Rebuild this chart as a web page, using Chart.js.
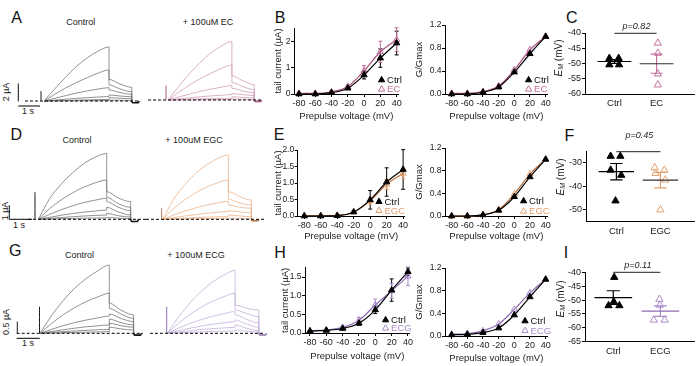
<!DOCTYPE html>
<html><head><meta charset="utf-8">
<script src="https://cdn.jsdelivr.net/npm/chart.js@4.4.1/dist/chart.umd.min.js"></script>
<style>
html,body{margin:0;padding:0;background:#fff}
body{width:700px;height:366px;position:relative;overflow:hidden;font-family:'Liberation Sans',Arial,sans-serif;color:#111}
canvas{position:absolute}
.t{position:absolute;white-space:nowrap;line-height:1;transform:translate(-50%,-50%);font-size:9px;color:#222}
.L{font-size:16px;color:#111}
.r{transform:translate(-50%,-50%) rotate(-90deg)}
</style></head><body>
<div class="t L" style="left:16.7px;top:17.5px">A</div>
<div class="t L" style="left:280px;top:17.5px">B</div>
<div class="t L" style="left:571.7px;top:17.5px">C</div>
<div class="t L" style="left:16.2px;top:135.3px">D</div>
<div class="t L" style="left:279px;top:135.3px">E</div>
<div class="t L" style="left:569.3px;top:135.8px">F</div>
<div class="t L" style="left:15.3px;top:250.8px">G</div>
<div class="t L" style="left:280px;top:252.5px">H</div>
<div class="t L" style="left:566px;top:253px">I</div>
<div class="t" style="left:80.8px;top:21.7px">Control</div>
<div class="t" style="left:208px;top:21.7px">+ 100uM EC</div>
<div class="t" style="left:77px;top:140px">Control</div>
<div class="t" style="left:194px;top:139.7px">+ 100uM EGC</div>
<div class="t" style="left:79.5px;top:255px">Control</div>
<div class="t" style="left:196px;top:255px">+ 100uM ECG</div>
<div class="t r" style="left:6px;top:92px">2 µA</div>
<div class="t" style="left:28px;top:111px">1 s</div>
<div class="t r" style="left:5px;top:211px">1 µA</div>
<div class="t" style="left:19px;top:225px">1 s</div>
<div class="t r" style="left:6px;top:322px">0.5 µA</div>
<div class="t" style="left:28px;top:343px">1 s</div>
<script>
// ---------------- DATA ----------------
const V = [-80, -60, -40, -20, 0, 20, 40];              // prepulse voltage (mV)
const PULSE_T = [0, 0.5, 1, 1.5, 2, 2.5, 3];             // s
const TAIL_T = [3, 3.5, 4.05];                           // s

// Row A/B/C (EC)
const A_CTRL_PULSE = [
  [0,1.35,2.65,3.85,4.8,5.55,6.0],
  [0,0.75,1.45,2.05,2.6,3.1,3.45],
  [0,0.3,0.6,0.88,1.12,1.33,1.48],
  [0,0.1,0.2,0.29,0.37,0.44,0.5],
  [0,0.03,0.06,0.09,0.12,0.15,0.17],
  [0,0.01,0.02,0.03,0.04,0.045,0.05]];
const A_CTRL_TAIL = [[2.4,1.9,1.52],[1.78,1.35,1.03],[1.22,0.95,0.74],[0.67,0.56,0.48],[0.37,0.31,0.26],[0.1,0.08,0.07]];
const A_EC_PULSE = [
  [0,1.5,2.9,4.15,5.2,6.0,6.5],
  [0,0.85,1.65,2.35,2.95,3.5,3.9],
  [0,0.33,0.65,0.95,1.2,1.42,1.6],
  [0,0.12,0.24,0.35,0.45,0.53,0.6],
  [0,0.04,0.08,0.12,0.15,0.18,0.2],
  [0,0.01,0.02,0.03,0.04,0.05,0.06]];
const A_EC_TAIL = [[2.7,2.15,1.7],[1.95,1.5,1.15],[1.3,1.0,0.8],[0.72,0.6,0.5],[0.35,0.28,0.22],[0.1,0.08,0.06]];
const B_TAIL_CTRL = [0, 0, 0.05, 0.22, 0.72, 1.36, 1.93];
const B_TAIL_CTRL_ERR = [0.01, 0.01, 0.03, 0.05, 0.15, 0.35, 0.45];
const B_TAIL_EC = [0.02, 0.02, 0.08, 0.28, 0.88, 1.6, 2.06];
const B_TAIL_EC_ERR = [0.01, 0.01, 0.03, 0.06, 0.2, 0.4, 0.45];
const B_G_CTRL = [0, 0, 0.03, 0.12, 0.38, 0.7, 1.0];
const B_G_EC = [0.01, 0.01, 0.04, 0.14, 0.42, 0.77, 1.0];
const C_CTRL = [-48.3, -48.3, -50.4, -50.4];
const C_EC = [-43.3, -46.6, -53.4, -57.0];

// Row D/E/F (EGC)
const D_CTRL_PULSE = [
  [0,1.45,2.45,3.25,3.9,4.35,4.6],
  [0,0.75,1.35,1.85,2.25,2.55,2.75],
  [0,0.35,0.67,0.94,1.17,1.34,1.47],
  [0,0.14,0.28,0.4,0.5,0.58,0.65],
  [0,0.06,0.12,0.18,0.23,0.27,0.3],
  [0,0.02,0.04,0.06,0.08,0.09,0.1]];
const D_CTRL_TAIL = [[1.93,1.5,1.23],[1.54,1.1,0.84],[1.23,0.85,0.6],[0.84,0.52,0.3],[0.42,0.25,0.16],[0.12,0.08,0.05]];
const D_EGC_PULSE = [
  [0,1.4,2.4,3.2,3.8,4.25,4.5],
  [0,0.75,1.35,1.85,2.25,2.55,2.75],
  [0,0.3,0.57,0.8,0.99,1.14,1.25],
  [0,0.12,0.23,0.33,0.42,0.49,0.55],
  [0,0.04,0.08,0.12,0.15,0.18,0.2],
  [0,0.01,0.02,0.04,0.05,0.06,0.07]];
const D_EGC_TAIL = [[1.93,1.6,1.35],[1.4,1.15,1.0],[1.0,0.85,0.77],[0.6,0.52,0.46],[0.3,0.24,0.18],[0.08,0.07,0.06]];
const E_TAIL_CTRL = [0, 0, 0.01, 0.12, 0.49, 1.03, 1.41];
const E_TAIL_CTRL_ERR = [0.01, 0.01, 0.01, 0.04, 0.28, 0.43, 0.6];
const E_TAIL_EGC = [0.01, 0.01, 0.02, 0.12, 0.46, 0.96, 1.29];
const E_TAIL_EGC_ERR = [0.01, 0.01, 0.01, 0.03, 0.1, 0.15, 0.15];
const E_G_CTRL = [0, 0, 0.02, 0.1, 0.34, 0.69, 1.0];
const E_G_EGC = [0, 0, 0.02, 0.11, 0.39, 0.74, 1.0];
const F_CTRL = [-27.2, -27.2, -33.1, -35.3, -46.2];
const F_EGC = [-32.1, -33.1, -34.5, -37.3, -50.0];

// Row G/H/I (ECG)
const G_CTRL_PULSE = [
  [0,0.76,1.4,1.93,2.35,2.68,2.93],
  [0,0.42,0.79,1.1,1.36,1.56,1.72],
  [0,0.17,0.33,0.46,0.57,0.66,0.74],
  [0,0.08,0.15,0.22,0.28,0.32,0.36],
  [0,0.04,0.07,0.1,0.13,0.15,0.17],
  [0,0.01,0.03,0.04,0.05,0.06,0.07]];
const G_CTRL_TAIL = [[1.29,1.0,0.79],[1.07,0.83,0.64],[0.83,0.64,0.5],[0.61,0.46,0.36],[0.43,0.33,0.26],[0.26,0.19,0.14]];
const G_ECG_PULSE = [
  [0,0.7,1.3,1.8,2.2,2.5,2.7],
  [0,0.43,0.8,1.12,1.38,1.57,1.72],
  [0,0.22,0.42,0.59,0.73,0.84,0.93],
  [0,0.11,0.22,0.31,0.39,0.45,0.5],
  [0,0.06,0.11,0.16,0.2,0.23,0.26],
  [0,0.02,0.04,0.06,0.08,0.09,0.1]];
const G_ECG_TAIL = [[1.21,1.08,1.0],[1.0,0.85,0.71],[0.79,0.6,0.45],[0.57,0.4,0.26],[0.36,0.22,0.11],[0.15,0.09,0.05]];
const H_TAIL_CTRL = [0.05, 0.07, 0.12, 0.26, 0.62, 1.15, 1.64];
const H_TAIL_CTRL_ERR = [0.02, 0.02, 0.03, 0.05, 0.1, 0.3, 0.1];
const H_TAIL_ECG = [0.06, 0.08, 0.15, 0.34, 0.75, 1.13, 1.52];
const H_TAIL_ECG_ERR = [0.02, 0.02, 0.04, 0.08, 0.16, 0.2, 0.25];
const H_G_CTRL = [0.02, 0.03, 0.06, 0.14, 0.37, 0.69, 1.0];
const H_G_ECG = [0.03, 0.04, 0.09, 0.21, 0.47, 0.76, 1.0];
const I_CTRL = [-41.8, -50.6, -52.0, -52.0];
const I_ECG = [-49.7, -51.8, -57.2, -57.2];

const P_TEXT = ['p=0.82', 'p=0.45', 'p=0.11'];
const TICKS_TAIL_B = [0, 1, 2];
const TICKS_TAIL_E = [0, 0.5, 1, 1.5, 2];
const TICKS_TAIL_H = [0, 0.5, 1, 1.5];
const TICKS_G = [0, 0.2, 0.4, 0.6, 0.8, 1.0, 1.2];
const TICKS_C = [-60, -55, -50, -45, -40];
const TICKS_F = [-50, -40, -30];
const TICKS_I = [-65, -60, -55, -50, -45, -40];

// horizontal scatter offsets of the dots (layout only)
const JIT_C_CTRL = [-0.12, 0.1, -0.12, 0.11], JIT_C_EC = [0.03, 0.03, 0.03, 0.03];
const JIT_F_CTRL = [-0.13, 0.09, -0.13, 0.11, -0.02], JIT_F_EGC = [-0.13, 0.09, -0.11, 0.11, 0];
const JIT_I_CTRL = [0.02, 0.01, -0.1, 0.13], JIT_I_ECG = [-0.02, -0.01, -0.14, 0.09];

// ---------------- STYLE ----------------
const FONT = "'Liberation Sans', Arial, Helvetica, sans-serif";
Chart.defaults.font.family = FONT;
Chart.defaults.font.size = 9;
Chart.defaults.color = '#222';
const EC_C = '#c2709c', EC_LINE = '#a8507e', EC_TRACE = '#d29cb8';
const EGC_C = '#e3a06e', EGC_LINE = '#b87040', EGC_TRACE = '#ecb48a';
const ECG_C = '#a98bc9', ECG_LINE = '#8e6cb0', ECG_TRACE = '#c3b0da';
const CTRL_TRACE = '#767676';
const NONE = 'rgba(0,0,0,0)';

function mkCanvas(left, top, w, h) {
  const c = document.createElement('canvas');
  c.width = w; c.height = h;
  c.style.left = left + 'px'; c.style.top = top + 'px';
  c.style.width = w + 'px'; c.style.height = h + 'px';
  document.body.appendChild(c);
  return c.getContext('2d');
}
function tri(ctx, x, y, r, fill, stroke) {
  ctx.beginPath();
  ctx.moveTo(x, y - r);
  ctx.lineTo(x + r * 0.866, y + r * 0.5);
  ctx.lineTo(x - r * 0.866, y + r * 0.5);
  ctx.closePath();
  if (fill !== NONE) { ctx.fillStyle = fill; ctx.fill(); }
  ctx.strokeStyle = stroke; ctx.lineWidth = 1; ctx.stroke();
}
const baseOpts = () => ({responsive: false, animation: false, devicePixelRatio: 1, events: [],
  plugins: {legend: {display: false}, tooltip: {enabled: false}}});

// ---------------- TRACES ----------------
function traceSet(p, t) {
  return PULSE_T.map((x, k) => ({x, y: p[k]}))
    .concat(TAIL_T.map((x, k) => ({x, y: t[k]})))
    .concat([{x: TAIL_T[TAIL_T.length - 1], y: 0}]);
}
function traceChart(c) {
  const ctx = mkCanvas(c.left, c.top, c.w, c.h);
  const X = px => (px - c.x0) / c.pxs, Y = py => (c.y0 - py) / c.pxu;
  const ds = [];
  const line = (data, color, w, dash) => ds.push({data, borderColor: color, borderWidth: w,
    borderDash: dash || [], pointRadius: 0, fill: false, cubicInterpolationMode: 'monotone'});
  line([{x: X(c.dash[0]), y: 0}, {x: X(c.dash[1]), y: 0}], '#000', 1, [3, 2]);
  const te = TAIL_T[TAIL_T.length - 1];
  line([{x: te, y: 0}, {x: te + 0.04, y: c.blip}, {x: te + 0.3, y: c.blip}, {x: te + 0.34, y: 0}], c.dark, 1.6);
  line([{x: X(c.spikeX), y: 0}, {x: X(c.spikeX), y: c.spike}], c.dark, 1);
  c.pulse.forEach((p, i) => line(traceSet(p, c.tail[i]), c.color, 0.8));
  if (c.bar) {
    const b = c.bar;
    line([{x: X(b.vx), y: Y(b.vy)}, {x: X(b.vx), y: Y(b.vy) + b.amp}], '#000', 1);
    line([{x: X(b.hx), y: Y(b.hy)}, {x: X(b.hx) + 1, y: Y(b.hy)}], '#000', 1);
  }
  const o = baseOpts();
  o.layout = {padding: 0};
  o.scales = {
    x: {type: 'linear', display: false, min: X(c.left), max: X(c.left + c.w)},
    y: {type: 'linear', display: false, min: Y(c.top + c.h), max: Y(c.top)}};
  new Chart(ctx, {type: 'line', data: {datasets: ds}, options: o});
}

// ---------------- IV PLOTS ----------------
const errPlugin = {id: 'errBars', beforeDatasetsDraw(chart) {
  const ctx = chart.ctx, xs = chart.scales.x, ys = chart.scales.y;
  chart.data.datasets.forEach(ds => {
    if (!ds.err) return;
    ctx.save(); ctx.strokeStyle = ds.pointBorderColor; ctx.lineWidth = 1;
    ds.data.forEach((p, j) => {
      const e = ds.err[j]; if (!e) return;
      const x = xs.getPixelForValue(p.x), y1 = ys.getPixelForValue(p.y + e), y2 = ys.getPixelForValue(p.y - e);
      ctx.beginPath();
      ctx.moveTo(x, y1); ctx.lineTo(x, y2);
      ctx.moveTo(x - 2, y1); ctx.lineTo(x + 2, y1);
      ctx.moveTo(x - 2, y2); ctx.lineTo(x + 2, y2);
      ctx.stroke();
    });
    ctx.restore();
  });
}};
function legendPlugin(series, lg) {
  return {id: 'lgd', afterDraw(chart) {
    const ctx = chart.ctx, a = chart.chartArea;
    ctx.save();
    series.forEach((s, i) => {
      const x = a.right + lg.dx, y = a.bottom + lg.dy[i];
      tri(ctx, x, y, 3.6, s.fill, s.marker);
      ctx.font = '9.5px ' + FONT; ctx.fillStyle = s.labelColor;
      ctx.textBaseline = 'middle'; ctx.textAlign = 'left';
      ctx.fillText(s.label, x + 5.5, y + 0.5);
    });
    ctx.restore();
  }};
}
function ivChart(c) {
  const fsT = 9.5, lh = fsT * 1.2;
  const cl = Math.floor(c.titleX - lh / 2), ct = Math.floor(c.T - 12);
  const cr = Math.ceil(c.R + 10), cb = Math.ceil(c.titleY + lh / 2 + 1);
  const YW = c.L - cl, XH = cb - c.B;
  const ctx = mkCanvas(cl, ct, cr - cl, cb - ct);
  const datasets = c.series.map(s => ({
    data: V.map((v, i) => ({x: v, y: s.vals[i]})), err: s.err,
    borderColor: s.line, borderWidth: 1.2, cubicInterpolationMode: 'monotone', fill: false,
    pointStyle: 'triangle', pointRadius: 3.6, pointBackgroundColor: s.fill,
    pointBorderColor: s.marker, pointBorderWidth: 1, clip: false}));
  const o = baseOpts();
  o.layout = {padding: {left: 0, top: c.T - ct, right: cr - c.R, bottom: 0}};
  const axisCommon = {
    grid: {drawOnChartArea: false, color: '#000', tickColor: '#000', tickLength: 3, lineWidth: 1},
    border: {display: true, color: '#000', width: 1}};
  o.scales = {
    x: Object.assign({type: 'linear', min: c.xMin, max: c.xMax,
      afterBuildTicks: s => { s.ticks = V.map(v => ({value: v})); },
      afterFit: s => { s.height = XH; },
      ticks: {font: {size: 9}, color: '#222', padding: 1, maxRotation: 0, autoSkip: false},
      title: {display: true, text: 'Prepulse voltage (mV)', font: {size: fsT}, color: '#222',
        padding: {top: 0, bottom: cb - lh / 2 - c.titleY}}}, axisCommon),
    y: Object.assign({type: 'linear', min: c.yMin, max: c.yMax,
      afterBuildTicks: s => { s.ticks = c.yTicks.map(v => ({value: v})); },
      afterFit: s => { s.width = YW; },
      ticks: {font: {size: 8.5}, color: '#222', padding: 0.5, callback: v => Number(v).toFixed(c.yDec)},
      title: {display: true, text: c.yTitle, font: {size: fsT}, color: '#222',
        padding: {top: c.titleX - lh / 2 - cl, bottom: 0}}}, axisCommon)};
  new Chart(ctx, {type: 'line', data: {datasets}, options: o,
    plugins: [errPlugin, legendPlugin(c.series, c.legend)]});
}

// ---------------- SCATTER (E_M) ----------------
function mean(a) { return a.reduce((s, v) => s + v, 0) / a.length; }
function sem(a) { const m = mean(a); return Math.sqrt(a.reduce((s, v) => s + (v - m) * (v - m), 0) / (a.length - 1)) / Math.sqrt(a.length); }
function scatterChart(c) {
  const cl = 546, ct = Math.floor(c.pTextY - 8), cr = 700, cb = Math.ceil(c.B + 18);
  const YW = c.L - cl, XH = cb - c.B;
  const ctx = mkCanvas(cl, ct, cr - cl, cb - ct);
  const datasets = c.groups.map((g, gi) => ({
    data: g.vals.map((v, i) => ({x: gi + 1 + g.jit[i], y: v})), showLine: false,
    pointStyle: 'triangle', pointRadius: 4.2, pointBackgroundColor: g.fill,
    pointBorderColor: g.marker, pointBorderWidth: 1, clip: false}));
  const deco = {id: 'deco', afterDatasetsDraw(chart) {
    const x = chart.ctx, xs = chart.scales.x, ys = chart.scales.y;
    x.save();
    c.groups.forEach((g, gi) => {
      const m = mean(g.vals), e = sem(g.vals), cx = xs.getPixelForValue(gi + 1);
      const hw = xs.getPixelForValue(gi + 1.4) - cx, cw = xs.getPixelForValue(gi + 1.14) - cx;
      const ym = ys.getPixelForValue(m), y1 = ys.getPixelForValue(m + e), y2 = ys.getPixelForValue(m - e);
      x.lineWidth = 1.2;
      x.strokeStyle = g.err; x.beginPath();
      x.moveTo(cx, y1); x.lineTo(cx, y2);
      x.moveTo(cx - cw, y1); x.lineTo(cx + cw, y1);
      x.moveTo(cx - cw, y2); x.lineTo(cx + cw, y2); x.stroke();
      x.strokeStyle = g.meanColor; x.beginPath();
      x.moveTo(cx - hw, ym); x.lineTo(cx + hw, ym); x.stroke();
    });
    // p value bracket
    const px1 = xs.getPixelForValue(1), px2 = xs.getPixelForValue(2), py = c.pLineY - ct;
    x.strokeStyle = '#222'; x.lineWidth = 1;
    x.beginPath(); x.moveTo(px1, py); x.lineTo(px2, py); x.stroke();
    x.font = 'italic 9px ' + FONT; x.fillStyle = '#222'; x.textAlign = 'center'; x.textBaseline = 'middle';
    x.fillText(c.pText, (px1 + px2) / 2 + 1, c.pTextY - ct);
    // E_M (mV) axis title
    x.translate(c.emX - cl, c.emY - ct); x.rotate(-Math.PI / 2);
    x.textAlign = 'left'; x.textBaseline = 'middle';
    const f1 = 'italic 10px ' + FONT, f2 = 'italic 7px ' + FONT, f3 = '10px ' + FONT;
    x.font = f1; const w1 = x.measureText('E').width;
    x.font = f2; const w2 = x.measureText('M').width;
    x.font = f3; const w3 = x.measureText(' (mV)').width;
    let sx = -(w1 + w2 + w3) / 2;
    x.font = f1; x.fillText('E', sx, 0); sx += w1;
    x.font = f2; x.fillText('M', sx, 2.5); sx += w2;
    x.font = f3; x.fillText(' (mV)', sx, 0);
    x.restore();
  }};
  const o = baseOpts();
  o.layout = {padding: {left: 0, top: c.T - ct, right: cr - c.R, bottom: 0}};
  o.scales = {
    x: {type: 'linear', min: c.xMin, max: c.xMax,
      afterBuildTicks: s => { s.ticks = [{value: 1}, {value: 2}]; },
      afterFit: s => { s.height = XH; },
      ticks: {font: {size: 9.5}, color: '#222', padding: 4, callback: v => c.cats[Math.round(v) - 1]},
      grid: {drawOnChartArea: false, drawTicks: false, tickLength: 0, color: '#000'},
      border: {display: true, color: '#000', width: 1}},
    y: {type: 'linear', min: c.yMin, max: c.yMax,
      afterBuildTicks: s => { s.ticks = c.yTicks.map(v => ({value: v})); },
      afterFit: s => { s.width = YW; },
      ticks: {font: {size: 9}, color: '#222', padding: 1},
      grid: {drawOnChartArea: false, color: '#000', tickColor: '#000', tickLength: 3},
      border: {display: true, color: '#000', width: 1}}};
  new Chart(ctx, {type: 'scatter', data: {datasets}, options: o, plugins: [deco]});
}

// ---------------- BUILD ----------------
// Row 1
traceChart({left: 0, top: 30, w: 146, h: 88, x0: 44, pxs: 21.67, y0: 101, pxu: 9,
  pulse: A_CTRL_PULSE, tail: A_CTRL_TAIL, color: CTRL_TRACE, dark: '#111', spike: 1.1, spikeX: 41,
  blip: -0.2, dash: [25, 140], bar: {vx: 18.3, vy: 101.5, amp: 2, hx: 18.3, hy: 106}});
traceChart({left: 146, top: 30, w: 122, h: 88, x0: 168, pxs: 21.3, y0: 100, pxu: 9,
  pulse: A_EC_PULSE, tail: A_EC_TAIL, color: EC_TRACE, dark: EC_LINE, spike: 1.6, spikeX: 166,
  blip: -0.15, dash: [148, 262]});
ivChart({L: 294, R: 398.6, T: 28, B: 94, titleX: 278, titleY: 116,
  xMin: -86.1, xMax: 42.4, yMin: 0, yMax: 2.5, yTicks: TICKS_TAIL_B, yDec: 0, yTitle: 'tail current (\u00b5A)',
  series: [
    {vals: B_TAIL_CTRL, err: B_TAIL_CTRL_ERR, marker: '#000', fill: '#000', line: '#000', label: 'Ctrl', labelColor: '#111'},
    {vals: B_TAIL_EC, err: B_TAIL_EC_ERR, marker: EC_C, fill: NONE, line: EC_LINE, label: 'EC', labelColor: EC_C}],
  legend: {dx: -17, dy: [-14, -4.7]}});
ivChart({L: 445, R: 547.6, T: 25, B: 94, titleX: 419, titleY: 116,
  xMin: -88.5, xMax: 42.5, yMin: 0, yMax: 1.2, yTicks: TICKS_G, yDec: 1, yTitle: 'G/Gmax',
  series: [
    {vals: B_G_CTRL, marker: '#000', fill: '#000', line: '#000', label: 'Ctrl', labelColor: '#111'},
    {vals: B_G_EC, marker: EC_C, fill: NONE, line: EC_LINE, label: 'EC', labelColor: EC_C}],
  legend: {dx: -19, dy: [-14, -4.7]}});
scatterChart({L: 585, R: 697, T: 33, B: 94, xMin: 0.302, xMax: 2.907, yMin: -60, yMax: -40, yTicks: TICKS_C,
  cats: ['Ctrl', 'EC'],
  groups: [
    {vals: C_CTRL, jit: JIT_C_CTRL, marker: '#000', fill: '#000', err: '#000', meanColor: '#000'},
    {vals: C_EC, jit: JIT_C_EC, marker: EC_C, fill: NONE, err: EC_C, meanColor: '#333'}],
  pText: P_TEXT[0], pLineY: 33.3, pTextY: 26.7, emX: 559, emY: 58});

// Row 2
traceChart({left: 0, top: 145, w: 146, h: 92, x0: 38.3, pxs: 22.8, y0: 219.3, pxu: 14.3,
  pulse: D_CTRL_PULSE, tail: D_CTRL_TAIL, color: CTRL_TRACE, dark: '#111', spike: 1.9, spikeX: 35,
  blip: -0.15, dash: [28, 146], bar: {vx: 9.3, vy: 219.3, amp: 1, hx: 9.3, hy: 219.3}});
traceChart({left: 146, top: 145, w: 122, h: 92, x0: 162.7, pxs: 21.9, y0: 219.3, pxu: 14.3,
  pulse: D_EGC_PULSE, tail: D_EGC_TAIL, color: EGC_TRACE, dark: EGC_LINE, spike: 0.8, spikeX: 161.7,
  blip: -0.1, dash: [146, 265]});
ivChart({L: 297.7, R: 404.6, T: 150, B: 216, titleX: 278.5, titleY: 236,
  xMin: -88, xMax: 41.8, yMin: 0, yMax: 2.0, yTicks: TICKS_TAIL_E, yDec: 1, yTitle: 'tail current (\u00b5A)',
  series: [
    {vals: E_TAIL_CTRL, err: E_TAIL_CTRL_ERR, marker: '#000', fill: '#000', line: '#000', label: 'Ctrl', labelColor: '#111'},
    {vals: E_TAIL_EGC, err: E_TAIL_EGC_ERR, marker: EGC_C, fill: NONE, line: EGC_LINE, label: 'EGC', labelColor: EGC_C}],
  legend: {dx: -25.6, dy: [-14.3, -5.3]}});
ivChart({L: 445, R: 547.6, T: 148, B: 216, titleX: 419, titleY: 236,
  xMin: -88.5, xMax: 42.5, yMin: 0, yMax: 1.2, yTicks: TICKS_G, yDec: 1, yTitle: 'G/Gmax',
  series: [
    {vals: E_G_CTRL, marker: '#000', fill: '#000', line: '#000', label: 'Ctrl', labelColor: '#111'},
    {vals: E_G_EGC, marker: EGC_C, fill: NONE, line: EGC_LINE, label: 'EGC', labelColor: EGC_C}],
  legend: {dx: -24, dy: [-15, -4.7]}});
scatterChart({L: 586, R: 697, T: 151, B: 221.5, xMin: 0.31, xMax: 2.78, yMin: -55, yMax: -25, yTicks: TICKS_F,
  cats: ['Ctrl', 'EGC'],
  groups: [
    {vals: F_CTRL, jit: JIT_F_CTRL, marker: '#000', fill: '#000', err: '#000', meanColor: '#000'},
    {vals: F_EGC, jit: JIT_F_EGC, marker: EGC_C, fill: NONE, err: EGC_C, meanColor: '#333'}],
  pText: P_TEXT[1], pLineY: 151.7, pTextY: 135, emX: 561, emY: 177});

// Row 3
traceChart({left: 0, top: 255, w: 146, h: 95, x0: 40, pxs: 23.1, y0: 333.3, pxu: 23.3,
  pulse: G_CTRL_PULSE, tail: G_CTRL_TAIL, color: CTRL_TRACE, dark: '#111', spike: 1.14, spikeX: 39.5,
  blip: -0.08, dash: [16.7, 143], bar: {vx: 17.3, vy: 333.3, amp: 0.5, hx: 16.7, hy: 338.3}});
traceChart({left: 146, top: 255, w: 122, h: 95, x0: 167.3, pxs: 22.6, y0: 333.3, pxu: 23.3,
  pulse: G_ECG_PULSE, tail: G_ECG_TAIL, color: ECG_TRACE, dark: ECG_LINE, spike: 1.14, spikeX: 166.7,
  blip: -0.07, dash: [150, 265]});
ivChart({L: 305, R: 409.6, T: 267.7, B: 333, titleX: 285, titleY: 356,
  xMin: -86.1, xMax: 42, yMin: 0, yMax: 1.75, yTicks: TICKS_TAIL_H, yDec: 1, yTitle: 'tail current (\u00b5A)',
  series: [
    {vals: H_TAIL_CTRL, err: H_TAIL_CTRL_ERR, marker: '#000', fill: '#000', line: '#000', label: 'Ctrl', labelColor: '#111'},
    {vals: H_TAIL_ECG, err: H_TAIL_ECG_ERR, marker: ECG_C, fill: NONE, line: ECG_LINE, label: 'ECG', labelColor: ECG_C}],
  legend: {dx: -24, dy: [-13, -4.7]}});
ivChart({L: 445, R: 547.6, T: 268, B: 336, titleX: 419, titleY: 358,
  xMin: -88.5, xMax: 42.5, yMin: 0, yMax: 1.2, yTicks: TICKS_G, yDec: 1, yTitle: 'G/Gmax',
  series: [
    {vals: H_G_CTRL, marker: '#000', fill: '#000', line: '#000', label: 'Ctrl', labelColor: '#111'},
    {vals: H_G_ECG, marker: ECG_C, fill: NONE, line: ECG_LINE, label: 'ECG', labelColor: ECG_C}],
  legend: {dx: -22.6, dy: [-15, -5.3]}});
scatterChart({L: 585, R: 697, T: 272.3, B: 341.7, xMin: 0.4, xMax: 2.73, yMin: -65, yMax: -40, yTicks: TICKS_I,
  cats: ['Ctrl', 'ECG'],
  groups: [
    {vals: I_CTRL, jit: JIT_I_CTRL, marker: '#000', fill: '#000', err: '#000', meanColor: '#000'},
    {vals: I_ECG, jit: JIT_I_ECG, marker: ECG_C, fill: NONE, err: ECG_C, meanColor: ECG_LINE}],
  pText: P_TEXT[2], pLineY: 272.3, pTextY: 265, emX: 561, emY: 299});
</script>
</body></html>
